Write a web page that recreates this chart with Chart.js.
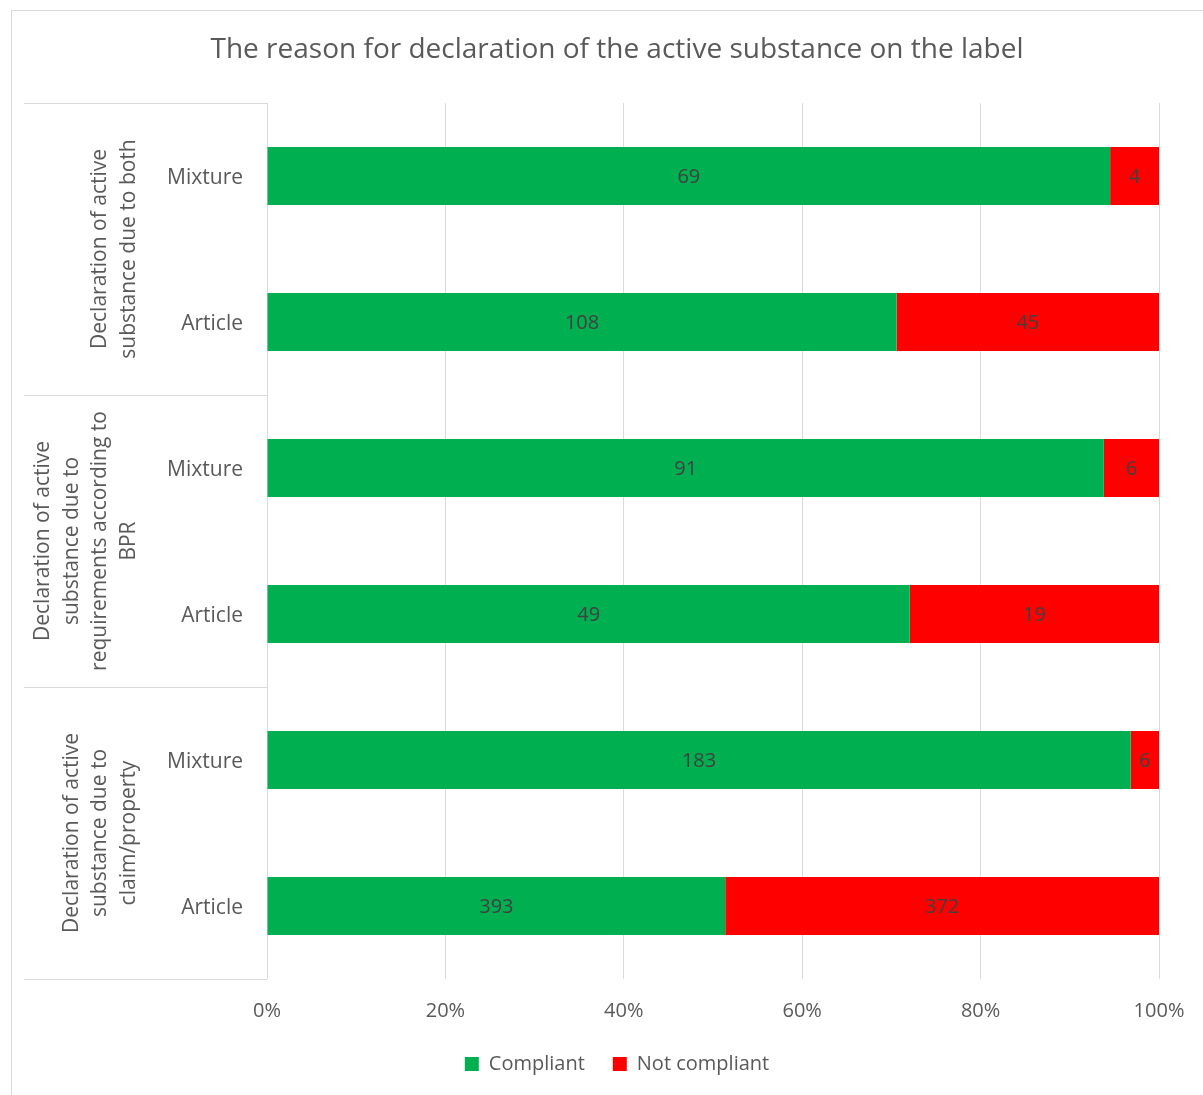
<!DOCTYPE html>
<html>
<head>
<meta charset="utf-8">
<script src="https://cdn.jsdelivr.net/npm/chart.js@4"></script>
<style>
  html, body { margin: 0; padding: 0; background: #ffffff; }
  #wrap { width: 1203px; height: 1095px; position: relative; }
</style>
</head>
<body>
<div id="wrap"><canvas id="c" width="1203" height="1095"></canvas></div>
<script>
const chartTitle = 'The reason for declaration of the active substance on the label';
const categories = ['Mixture', 'Article', 'Mixture', 'Article', 'Mixture', 'Article'];
const groupLabels = [
  ['Declaration of active', 'substance due to both'],
  ['Declaration of active', 'substance due to', 'requirements according to', 'BPR'],
  ['Declaration of active', 'substance due to', 'claim/property']
];
const groupSizes = [2, 2, 2];
const seriesNames = ['Compliant', 'Not compliant'];
const compliant = [69, 108, 91, 49, 183, 393];
const notCompliant = [4, 45, 6, 19, 6, 372];
const xTickValues = [0, 20, 40, 60, 80, 100];

const counts = [compliant, notCompliant];
const totals = compliant.map((v, i) => v + notCompliant[i]);
const pct = arr => arr.map((v, i) => v / totals[i] * 100);

const FONT = "'Open Sans', 'Liberation Sans', sans-serif";
const TEXT = '#595959';
const GRID = '#d9d9d9';

const decorPlugin = {
  id: 'decor',
  beforeDraw(chart) {
    const ctx = chart.ctx;
    ctx.save();
    ctx.strokeStyle = GRID;
    ctx.lineWidth = 1;
    ctx.strokeRect(11.5, 10.5, 1400, 1400);
    ctx.restore();
  },
  afterDraw(chart) {
    const ctx = chart.ctx;
    const y = chart.scales.y;
    const left = chart.chartArea.left;
    ctx.save();
    ctx.strokeStyle = GRID;
    ctx.lineWidth = 1.2;
    let idx = 0;
    const bounds = [y.getPixelForValue(-0.5)];
    groupSizes.forEach(s => { idx += s; bounds.push(y.getPixelForValue(idx - 0.5)); });
    bounds.forEach(b => {
      ctx.beginPath();
      ctx.moveTo(24, Math.round(b) + 0.5);
      ctx.lineTo(left, Math.round(b) + 0.5);
      ctx.stroke();
    });
    ctx.fillStyle = TEXT;
    ctx.font = '21px ' + FONT;
    ctx.textAlign = 'center';
    ctx.textBaseline = 'middle';
    const lastX = 129, lh = 28.7;
    groupLabels.forEach((lines, g) => {
      const cy = (bounds[g] + bounds[g + 1]) / 2;
      const n = lines.length;
      lines.forEach((t, i) => {
        const x = lastX - (n - 1 - i) * lh;
        ctx.save();
        ctx.translate(x, cy);
        ctx.rotate(-Math.PI / 2);
        ctx.fillText(t, 0, 0);
        ctx.restore();
      });
    });
    ctx.restore();
  },
  afterDatasetsDraw(chart) {
    const ctx = chart.ctx;
    ctx.save();
    ctx.fillStyle = '#404040';
    ctx.font = '20px ' + FONT;
    ctx.textAlign = 'center';
    ctx.textBaseline = 'middle';
    chart.data.datasets.forEach((ds, di) => {
      const meta = chart.getDatasetMeta(di);
      meta.data.forEach((el, i) => {
        const cx = (el.x + el.base) / 2;
        ctx.fillText(String(counts[di][i]), cx, el.y + 1);
      });
    });
    ctx.restore();
  }
};

new Chart(document.getElementById('c'), {
  type: 'bar',
  data: {
    labels: categories,
    datasets: [
      { label: seriesNames[0], data: pct(compliant), backgroundColor: '#00B050', borderWidth: 0 },
      { label: seriesNames[1], data: pct(notCompliant), backgroundColor: '#FF0000', borderWidth: 0 }
    ]
  },
  options: {
    indexAxis: 'y',
    responsive: false,
    animation: false,
    devicePixelRatio: 1,
    layout: { padding: { left: 31, right: 0, top: 0, bottom: 11 } },
    datasets: { bar: { categoryPercentage: 0.397, barPercentage: 1 } },
    scales: {
      x: {
        stacked: true,
        min: 0, max: 100,
        afterBuildTicks(scale) { scale.ticks = xTickValues.map(v => ({ value: v })); },
        afterFit(scale) { scale.height = 47; scale.paddingRight = 44; },
        ticks: { padding: 20, color: TEXT, font: { family: FONT, size: 20 }, callback: v => v + '%' },
        grid: { color: GRID, lineWidth: 1, drawTicks: false },
        border: { display: false }
      },
      y: {
        stacked: true,
        afterFit(scale) { scale.width = 236; },
        ticks: { padding: 24, labelOffset: 2, color: TEXT, font: { family: FONT, size: 21 } },
        grid: { display: false, drawTicks: false },
        border: { display: false }
      }
    },
    plugins: {
      title: {
        display: true,
        text: chartTitle,
        color: TEXT,
        font: { family: FONT, size: 28, weight: 'normal', lineHeight: 1.2 },
        padding: { top: 33.2, bottom: 36.2 }
      },
      legend: {
        position: 'bottom',
        labels: {
          color: TEXT,
          font: { family: FONT, size: 20 },
          boxWidth: 14, boxHeight: 14,
          padding: 28
        }
      },
      tooltip: { enabled: false }
    }
  },
  plugins: [decorPlugin]
});
</script>
</body>
</html>
